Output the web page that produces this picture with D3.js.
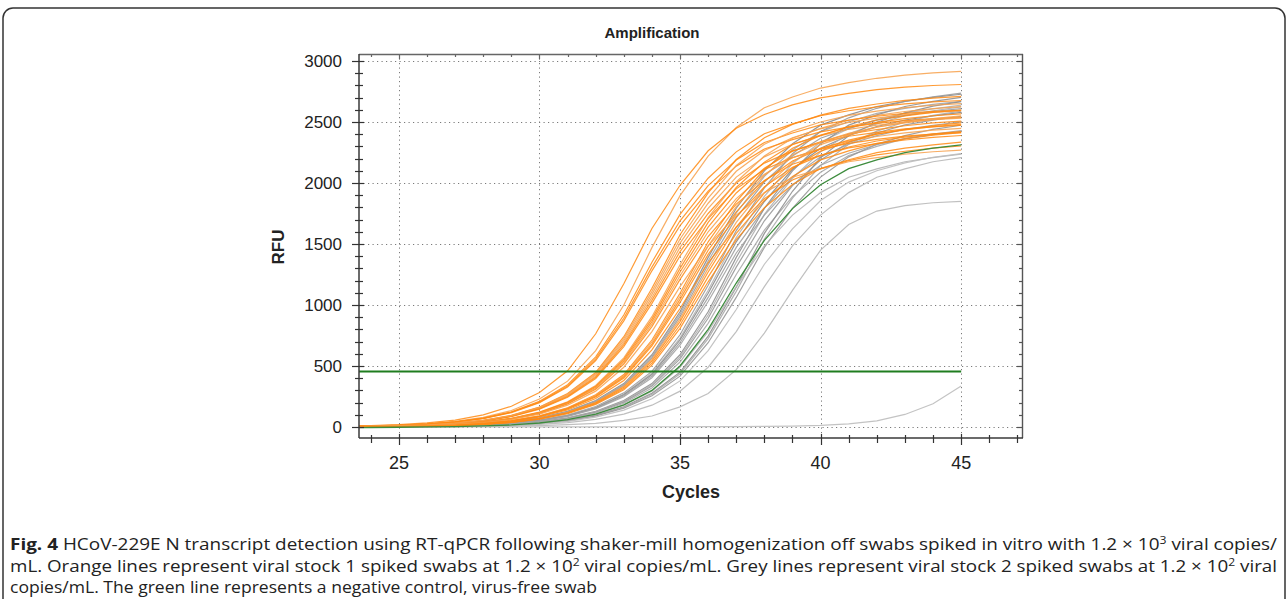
<!DOCTYPE html>
<html><head><meta charset="utf-8">
<script src="https://cdn.jsdelivr.net/npm/d3@7"></script>
<style>
html,body{margin:0;padding:0;background:#fff;}
svg{display:block;}
</style></head>
<body>
<svg id="chart" width="1288" height="599"></svg>
<script>
// ---------- data ----------
const title = "Amplification";
const xLabel = "Cycles";
const yLabel = "RFU";
const cycles = [23,24,25,26,27,28,29,30,31,32,33,34,35,36,37,38,39,40,41,42,43,44,45];
const xTicks = [25,30,35,40,45];
const yTicks = [0,500,1000,1500,2000,2500,3000];
const threshold = 455;

// viral stock 1 (orange), RFU per cycle 23..45
const orangeCurves = [
 [6,10,15,26,46,79,135,229,376,626,1000,1470,1896,2220,2455,2617,2705,2778,2822,2858,2884,2902,2914],
 [7,12,19,34,57,99,170,283,461,764,1174,1627,1981,2264,2448,2561,2640,2697,2734,2765,2785,2799,2807],
 [5,9,14,24,42,73,124,211,346,575,918,1350,1742,2039,2255,2403,2484,2552,2592,2624,2649,2665,2676],
 [4,7,11,18,31,52,92,157,262,427,707,1087,1507,1834,2096,2266,2371,2444,2497,2531,2560,2578,2591],
 [5,8,13,23,40,69,118,200,328,545,870,1280,1651,1933,2138,2278,2355,2419,2458,2488,2511,2527,2537],
 [4,7,12,18,33,55,96,164,274,447,740,1137,1576,1918,2192,2370,2480,2556,2611,2647,2677,2696,2710],
 [3,6,11,17,31,51,90,154,256,417,691,1062,1472,1792,2048,2214,2317,2388,2440,2473,2501,2519,2532],
 [3,6,11,17,30,50,88,150,250,408,675,1038,1438,1750,2000,2163,2263,2333,2383,2415,2443,2460,2473],
 [3,6,10,16,29,49,85,146,244,398,659,1013,1403,1708,1952,2111,2208,2277,2325,2357,2384,2401,2413],
 [3,5,9,13,24,41,72,122,207,340,567,904,1330,1716,2008,2221,2367,2447,2514,2554,2586,2609,2625],
 [3,5,9,13,23,40,70,120,203,333,554,884,1300,1677,1963,2171,2314,2392,2457,2496,2527,2551,2566],
 [2,5,8,13,23,39,69,117,198,325,541,864,1270,1638,1918,2121,2261,2337,2400,2438,2469,2492,2507],
 [2,4,8,12,22,38,67,114,193,317,528,843,1240,1600,1872,2071,2207,2282,2344,2381,2411,2433,2448],
 [2,4,8,12,22,38,65,111,189,310,515,823,1210,1561,1827,2021,2154,2226,2287,2323,2352,2374,2389],
 [2,4,7,11,18,32,53,92,158,264,430,713,1096,1518,1848,2112,2284,2389,2463,2516,2550,2579,2598],
 [2,4,6,11,17,31,52,90,155,258,421,697,1071,1484,1806,2064,2232,2335,2407,2459,2492,2521,2539],
 [2,4,6,11,17,30,50,88,151,252,411,680,1046,1449,1764,2016,2180,2281,2351,2402,2434,2462,2480],
 [2,4,6,10,16,28,47,82,140,234,381,632,971,1346,1638,1872,2024,2118,2183,2230,2260,2286,2303],
 [2,3,5,9,13,23,40,70,120,203,333,554,884,1300,1677,1963,2171,2314,2392,2457,2496,2527,2551],
 [2,3,5,8,13,23,39,69,117,198,325,541,864,1270,1638,1918,2121,2261,2337,2400,2438,2469,2492],
 [1,3,4,8,12,22,38,66,113,192,315,524,836,1230,1587,1857,2054,2189,2263,2325,2362,2391,2413],
 [2,4,8,12,21,36,62,106,179,294,490,782,1150,1484,1737,1921,2047,2116,2174,2208,2236,2256,2270],
 [5,9,13,24,41,71,121,204,335,558,891,1310,1690,1978,2188,2332,2410,2476,2515,2547,2570,2586,2596],
 [2,4,6,10,16,30,49,86,148,246,401,664,1021,1415,1722,1968,2128,2226,2295,2344,2376,2403,2421],
 [4,7,11,18,32,54,94,161,268,437,724,1112,1541,1876,2144,2318,2425,2500,2554,2589,2618,2637,2651],
 [1,3,4,8,12,21,37,64,109,186,305,507,809,1190,1535,1797,1987,2118,2190,2249,2285,2313,2335]
];

// viral stock 2 (grey), RFU per cycle 23..45
const greyCurves = [
 [2,3,5,9,14,25,43,75,128,217,356,592,945,1390,1793,2099,2321,2474,2558,2627,2669,2702,2727],
 [2,3,5,9,14,24,42,73,125,212,348,579,925,1360,1754,2054,2271,2421,2502,2570,2611,2644,2668],
 [1,3,4,7,12,19,34,56,98,168,280,456,756,1162,1610,1960,2240,2422,2534,2612,2668,2705,2736],
 [1,3,4,7,11,18,32,54,95,162,270,440,729,1121,1553,1890,2160,2336,2444,2519,2573,2608,2638],
 [1,3,4,7,11,18,32,53,92,158,264,430,713,1096,1518,1848,2112,2284,2389,2463,2516,2550,2579],
 [1,3,4,6,11,17,31,51,90,154,256,417,691,1062,1472,1792,2048,2214,2317,2388,2440,2473,2501],
 [1,3,3,5,9,14,25,43,75,128,217,356,592,945,1390,1793,2099,2321,2474,2558,2627,2669,2702],
 [1,2,3,5,9,14,24,42,73,124,211,346,575,918,1350,1742,2039,2255,2403,2484,2552,2592,2624],
 [1,2,3,5,9,13,24,41,71,121,204,335,558,891,1310,1690,1978,2188,2332,2410,2476,2515,2547],
 [1,2,3,5,8,13,23,39,68,115,195,320,533,850,1250,1613,1888,2088,2225,2300,2363,2400,2430],
 [1,2,3,4,7,12,18,33,55,97,166,276,450,745,1145,1587,1932,2208,2387,2498,2575,2630,2666],
 [1,2,3,4,7,11,18,32,54,94,161,268,437,724,1112,1541,1876,2144,2318,2425,2500,2554,2589],
 [1,2,3,4,6,11,17,31,51,90,154,256,417,691,1062,1472,1792,2048,2214,2317,2388,2440,2473],
 [1,2,3,4,8,12,21,36,62,106,179,294,490,782,1150,1484,1737,1921,2047,2116,2174,2208,2236],
 [1,2,2,3,6,10,16,28,46,81,139,232,378,626,963,1334,1624,1856,2007,2100,2165,2211,2241],
 [1,2,2,3,4,8,12,21,36,62,106,179,294,490,782,1150,1484,1737,1921,2047,2116,2174,2208],
 [2,3,5,9,13,24,41,72,122,207,340,567,904,1330,1716,2008,2221,2367,2447,2514,2554,2586,2609],
 [1,2,4,6,10,17,30,50,87,149,248,404,670,1029,1426,1736,1984,2145,2244,2314,2363,2396,2423],
 [1,1,2,2,3,5,8,12,19,30,55,90,165,275,470,770,1120,1450,1660,1770,1815,1838,1850],
 [0,0,0,0,0,0,1,1,1,1,2,2,2,3,3,5,8,14,26,50,103,190,336]
];
const greyShade = ["#8c8c8c","#a6a6a6","#9a9a9a","#b3b3b3","#8a8a8a","#a0a0a0","#909090","#b0b0b0","#999999","#a8a8a8",
                   "#8e8e8e","#ababab","#969696","#b5b5b5","#bdbdbd","#b8b8b8","#9c9c9c","#a3a3a3","#b9b9b9","#bcbcbc"];

// green curve, RFU per cycle 23..45
const greenCurve = [-6,-4,-2,1,4,9,17,33,60,105,182,300,500,800,1180,1530,1790,1985,2118,2190,2249,2285,2313];

const captionLines = [
 [{t:"Fig. 4",b:true},{t:" HCoV-229E N transcript detection using RT-qPCR following shaker-mill homogenization off swabs spiked in vitro with 1.2 × 10"},{t:"3",sup:true},{t:" viral copies/"}],
 [{t:"mL. Orange lines represent viral stock 1 spiked swabs at 1.2 × 10"},{t:"2",sup:true},{t:" viral copies/mL. Grey lines represent viral stock 2 spiked swabs at 1.2 × 10"},{t:"2",sup:true},{t:" viral"}],
 [{t:"copies/mL. The green line represents a negative control, virus-free swab"}]
];
const captionWidths = [1267, 1267, 587];

// ---------- drawing ----------
const svg = d3.select("#chart");
const L = 359, R = 1023, T = 54, B = 438;
const x = d3.scaleLinear().domain([23.58, 47.2]).range([L, R]);
const y = d3.scaleLinear().domain([-90, 3057]).range([B, T]);

svg.append("rect").attr("width",1288).attr("height",599).attr("fill","#fff");
// outer rounded box
svg.append("rect").attr("x",3).attr("y",8).attr("width",1282).attr("height",640).attr("rx",10)
   .attr("fill","none").attr("stroke","#333").attr("stroke-width",1.5);

// grid
const grid = svg.append("g").attr("stroke","#7a7a7a").attr("stroke-width",1).attr("stroke-dasharray","1.2,3.3");
yTicks.forEach(v => grid.append("line").attr("x1",L).attr("x2",R).attr("y1",Math.round(y(v))+0.5).attr("y2",Math.round(y(v))+0.5));
xTicks.forEach(v => grid.append("line").attr("y1",T).attr("y2",B).attr("x1",Math.round(x(v))+0.5).attr("x2",Math.round(x(v))+0.5));

// curves
svg.append("clipPath").attr("id","pc").append("rect").attr("x",L).attr("y",T).attr("width",R-L).attr("height",B-T);
const line = d3.line().x((d,i)=>x(cycles[i])).y(d=>y(d));
const curves = svg.append("g").attr("clip-path","url(#pc)").attr("fill","none");
greyCurves.forEach((c,i) => curves.append("path").attr("d",line(c)).attr("stroke",greyShade[i]).attr("stroke-width",1.2).attr("stroke-opacity",0.9));
orangeCurves.forEach((c,i) => curves.append("path").attr("d",line(c)).attr("stroke", i%3===0 ? "#f7a04a" : "#ff8a12").attr("stroke-width",1.2).attr("stroke-opacity",0.85));
curves.append("path").attr("d",line(greenCurve)).attr("stroke","#3d8c3d").attr("stroke-width",1.3);
// threshold
svg.append("line").attr("x1",L).attr("x2",x(45)).attr("y1",y(threshold)).attr("y2",y(threshold))
   .attr("stroke","#1f7d1f").attr("stroke-width",2.2);

// frame
const frame = svg.append("g").attr("stroke","#3a3a3a").attr("fill","none");
frame.append("line").attr("x1",L).attr("x2",R).attr("y1",T+0.5).attr("y2",T+0.5).attr("stroke-width",1.4).attr("stroke","#666");
frame.append("line").attr("x1",R-0.5).attr("x2",R-0.5).attr("y1",T).attr("y2",B).attr("stroke-width",1.4).attr("stroke","#555");
frame.append("line").attr("x1",L).attr("x2",R).attr("y1",B).attr("y2",B).attr("stroke-width",1.5);
frame.append("line").attr("x1",L).attr("x2",L).attr("y1",T).attr("y2",B).attr("stroke-width",1.5);

// ticks
const tk = svg.append("g").attr("stroke","#333").attr("stroke-width",1.2);
for (let c = 24; c <= 47; c++) {
  const major = c % 5 === 0;
  const xx = Math.round(x(c))+0.5;
  tk.append("line").attr("x1",xx).attr("x2",xx).attr("y1",B-(major?4:3)).attr("y2",B+(major?7:5));
  tk.append("line").attr("x1",xx).attr("x2",xx).attr("y1",T).attr("y2",T+(major?5:3)).attr("stroke","#666");
}
for (let v = 0; v <= 3000; v += 100) {
  const major = v % 500 === 0;
  const yy = Math.round(y(v))+0.5;
  tk.append("line").attr("y1",yy).attr("y2",yy).attr("x1",L-(major?7:4)).attr("x2",L+(major?5:4));
  tk.append("line").attr("y1",yy).attr("y2",yy).attr("x1",R-(major?6:4)).attr("x2",R).attr("stroke","#555");
}

// tick labels
const lab = svg.append("g").attr("font-family","'Liberation Sans', Arial, sans-serif").attr("fill","#222");
yTicks.forEach(v => lab.append("text").attr("x",342).attr("y",y(v)).attr("dy","0.36em").attr("text-anchor","end").attr("font-size",17).text(v));
xTicks.forEach(v => lab.append("text").attr("x",x(v)).attr("y",469).attr("text-anchor","middle").attr("font-size",18).text(v));

// titles
svg.append("text").attr("x",652).attr("y",38).attr("text-anchor","middle").attr("font-family","'Liberation Sans', Arial, sans-serif")
   .attr("font-weight","bold").attr("font-size",15).attr("fill","#222").text(title);
svg.append("text").attr("x",691).attr("y",498).attr("text-anchor","middle").attr("font-family","'Liberation Sans', Arial, sans-serif")
   .attr("font-weight","bold").attr("font-size",18).attr("fill","#222").text(xLabel);
svg.append("text").attr("transform","translate(284,247) rotate(-90)").attr("text-anchor","middle").attr("font-family","'Liberation Sans', Arial, sans-serif")
   .attr("font-weight","bold").attr("font-size",17).attr("fill","#222").text(yLabel);

// caption
const capY = [550, 572, 593];
captionLines.forEach((segs, i) => {
  const t = svg.append("text").attr("x",10).attr("y",capY[i]).attr("font-family","'Open Sans', 'Noto Sans', sans-serif")
     .attr("font-size",15.5).attr("fill","#222").attr("textLength",captionWidths[i]).attr("lengthAdjust","spacingAndGlyphs");
  segs.forEach((s, j) => {
    const ts = t.append("tspan").text(s.t);
    if (s.b) ts.attr("font-weight","bold");
    if (s.sup) ts.attr("font-size",10).attr("dy",-6);
    else if (j > 0 && segs[j-1].sup) ts.attr("dy",6);
  });
});
</script>
</body></html>
